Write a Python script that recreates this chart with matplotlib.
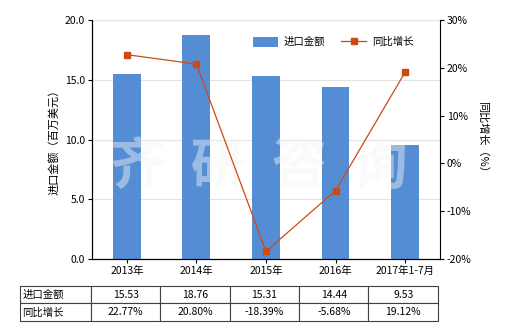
import matplotlib.pyplot as plt
import numpy as np

plt.rcParams['font.family'] = ['Noto Sans CJK SC', 'DejaVu Sans']

categories = ['2013年', '2014年', '2015年', '2016年', '2017年1-7月']
import_value = [15.53, 18.76, 15.31, 14.44, 9.53]
growth = [22.77, 20.80, -18.39, -5.68, 19.12]
value_labels = ['15.53', '18.76', '15.31', '14.44', '9.53']
growth_labels = ['22.77%', '20.80%', '-18.39%', '-5.68%', '19.12%']

bar_color = '#558dd5'
line_color = '#cc4a14'

fig = plt.figure(figsize=(5.2, 3.3), dpi=100)
ax = fig.add_axes([0.177, 0.215, 0.669, 0.724])
x = np.arange(len(categories))

ax.bar(x, import_value, width=0.4, color=bar_color, label='进口金额', zorder=2)
ax.set_xlim(-0.5, len(categories) - 0.5)
ax.set_ylim(0, 20)
ax.set_yticks([0, 5, 10, 15, 20])
ax.set_yticklabels(['0.0', '5.0', '10.0', '15.0', '20.0'], fontsize=7.5)
ax.set_xticks(x)
ax.set_xticklabels(categories, fontsize=7.5)
ax.grid(axis='y', color='#e3e3e3', lw=0.8, zorder=0)
ax.set_ylabel('进口金额（百万美元）', fontsize=8)
ax.spines['top'].set_visible(False)
ax.spines['right'].set_visible(False)
ax.tick_params(axis='both', length=3, width=0.8, pad=2)

ax2 = ax.twinx()
ax2.plot(x, growth, color=line_color, lw=0.9, marker='s', markersize=4,
         label='同比增长', zorder=3)
ax2.set_ylim(-20, 30)
ax2.set_yticks([-20, -10, 0, 10, 20, 30])
ax2.set_yticklabels(['-20%', '-10%', '0%', '10%', '20%', '30%'], fontsize=7.5)
ax2.set_ylabel('同比增长（%）', fontsize=8, rotation=270, labelpad=12)
ax2.spines['top'].set_visible(False)
ax2.tick_params(axis='y', length=3, width=0.8, pad=2)

# watermark
ax.text(0.48, 0.38, '齐  研  咨  询', transform=ax.transAxes, fontsize=40,
        color='#f4f4f4', alpha=0.45, ha='center', va='center',
        fontweight='bold', zorder=4)

h1, l1 = ax.get_legend_handles_labels()
h2, l2 = ax2.get_legend_handles_labels()
ax2.legend(h1 + h2, l1 + l2, loc='upper right', bbox_to_anchor=(0.95, 0.97),
           ncol=2, frameon=False, fontsize=7.5, handlelength=2.4,
           handleheight=1.1, columnspacing=1.6, handletextpad=0.5)

cell_text = [['进口金额'] + value_labels, ['同比增长'] + growth_labels]
tbl = ax.table(cellText=cell_text, cellLoc='center',
               colWidths=[71] + [69.4] * 5,
               bbox=[-0.207, -0.259, 1.201, 0.146])
tbl.auto_set_font_size(False)
tbl.set_fontsize(7.5)
for (r, c), cell in tbl.get_celld().items():
    cell.set_edgecolor('#404040')
    cell.set_linewidth(0.8)
    if c == 0:
        cell.get_text().set_ha('left')
        cell.PAD = 0.03

fig.savefig('out.png', dpi=100)
